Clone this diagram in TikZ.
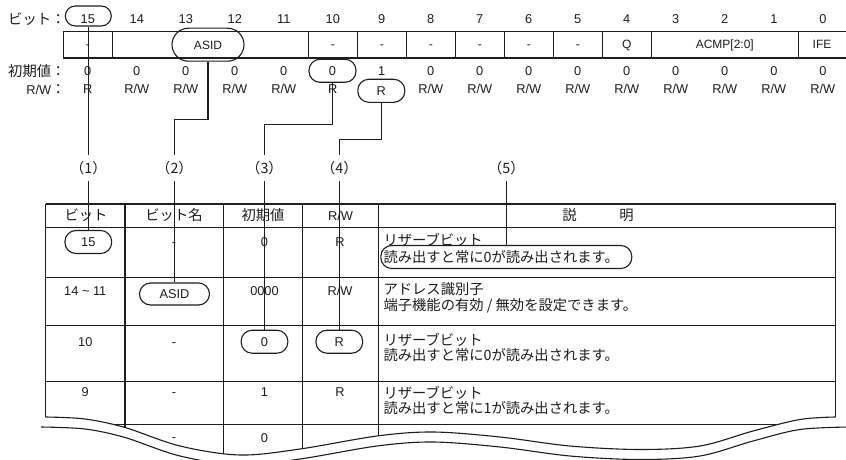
\documentclass[tikz,border=0pt]{standalone}
\usepackage{fontspec}
\setmainfont{Liberation Sans}
\newfontfamily\jpf{Noto Sans CJK JP}
\newcommand\latt{\fontsize{12.8}{15}\selectfont}
\newcommand\regt{\fontsize{12}{14}\selectfont}
\newcommand\jpt{\jpf\fontsize{14.3}{16}\selectfont}
\definecolor{ink}{RGB}{30,30,30}
\begin{document}
\begin{tikzpicture}[x=1pt,y=-1pt, line width=1.1pt, ink,
  lat/.style={font=\latt, inner sep=0pt, text height=9.2pt, text depth=0pt},
  rg/.style={font=\regt, inner sep=0pt, text height=8.6pt, text depth=0pt},
  jp/.style={font=\jpt, inner sep=0pt, text height=10.6pt, text depth=0pt},
  pill/.style={draw=ink, rectangle, rounded corners=11pt, minimum height=23pt, inner sep=0pt},
  lab/.style={jp, minimum height=25pt, minimum width=30pt}]
\fill[white] (0,0) rectangle (846,460);
\useasboundingbox (0,0) rectangle (846,460);

% ---------- register ----------
\node[jp, anchor=east] (lbit) at (66,18.8) {ビット：};
\node[jp, anchor=east] (lini) at (66,71) {初期値：};
\node[anchor=east, inner sep=0pt, text height=10.6pt, text depth=0pt] (lrw) at (66,89.3) {{\latt R/W}{\jpt ：}};

\foreach \i in {0,...,15} \node[lat] (bn\i) at ({87.8+(15-\i)*49},18.8) {\i};
\node[pill, minimum width=46pt, minimum height=20pt, rounded corners=10pt] (o15reg) at (88.3,16) {};

\draw (63.3,31.5) -- (850,31.5);
\draw (63.3,58) -- (850,58);
\foreach \x in {63.3,112.3,308.3,357.3,406.3,455.3,504.3,553.3,602.3,651.3,798.3}
  \draw (\x,31.5) -- (\x,58);

\node[rg] (c15) at (87.8,44.5) {-};
\foreach \i in {5,...,10} \node[rg] (c\i) at ({87.8+(15-\i)*49},44.5) {-};
\node[rg] (c4) at (626.8,44.5) {Q};
\node[rg] (c31) at (724.8,44.5) {ACMP[2:0]};
\node[rg] (c0) at (822,44.5) {IFE};
\node[pill, rg, minimum width=72pt, minimum height=33pt, rounded corners=16.5pt] (asidreg) at (208,44.7) {ASID};

\foreach \i in {0,...,8,11,12,13,14,15} \node[lat] (v\i) at ({87.8+(15-\i)*49},71) {0};
\node[lat] (v9) at (381.8,71) {1};
\node[pill, lat, minimum width=47pt] (v10) at (332.5,70.8) {0};

\foreach \i in {0,...,8,11,12,13,14} \node[lat] (w\i) at ({87.8+(15-\i)*49},89.3) {R/W};
\node[lat] (w15) at (87.8,89.3) {R};
\node[lat] (w10) at (332.8,89.3) {R};
\node[pill, lat, minimum width=47pt] (w9) at (381.3,90.8) {R};

% ---------- labels ----------
\node[lab] (lab1) at (88.3,168) {（1）};
\node[lab] (lab2) at (174.5,168) {（2）};
\node[lab] (lab3) at (264.5,168) {（3）};
\node[lab] (lab4) at (339.3,168) {（4）};
\node[lab] (lab5) at (506.3,168) {（5）};

% ---------- table ----------
\begin{scope}
\clip (-10,-10) -- (-10,417) -- plot[smooth,tension=0.55] coordinates {(45.7,417) (85,419) (125,427.5) (180,446) (240,455) (300,449) (377,436) (433,432) (500,437) (570,446) (640,449.5) (700,446) (753,431) (800,419.5) (835.5,417)} -- (856,417) -- (856,-10) -- cycle;
\foreach \y in {204,227.3,277.3,325.3,381.5,424.5} \draw (45.7,\y) -- (835.5,\y);
\foreach \x in {45.7,125,223.3,302.7,378.3,835.5} \draw (\x,204) -- (\x,470);
\end{scope}
\draw plot[smooth,tension=0.55] coordinates {(45.7,417) (85,419) (125,427.5) (180,446) (240,455) (300,449) (377,436) (433,432) (500,437) (570,446) (640,449.5) (700,446) (753,431) (800,419.5) (835.5,417)};
\draw plot[smooth,tension=0.55] coordinates {(41,427) (85,429) (125,437.5) (180,456) (240,465) (300,459) (377,446) (433,442) (500,447) (570,456) (640,459.5) (700,456) (753,441) (800,429.5) (850,427)};

% header
\node[jp] (h1) at (86,215.5) {ビット};
\node[jp] (h2) at (174,215.5) {ビット名};
\node[jp] (h3) at (263,215.5) {初期値};
\node[lat] (h4) at (340.5,215.5) {R/W};
\node[jp] (h5) at (598,215.5) {説　　　明};

% row 15
\node[pill, lat, minimum width=46.7pt] (o15tab) at (88.3,242) {15};
\node[lat] (r1b) at (174,241.5) {-};
\node[lat] (r1c) at (264.5,241.5) {0};
\node[lat] (r1d) at (340,241.5) {R};
\node[jp, anchor=west] (r1e) at (383,240) {リザーブビット};
\node[pill, minimum width=251pt, minimum height=23pt] (o5) at (506.3,257) {};
\node[jp, anchor=west] (r1f) at (383,257) {読み出すと常に0が読み出されます。};

% row 14~11
\node[lat] (r2a) at (85.3,290.7) {14 {\char`\~} 11};
\node[pill, lat, minimum width=70pt, minimum height=22pt] (asidtab) at (174.5,294) {ASID};
\node[lat] (r2c) at (264.5,290.7) {0000};
\node[lat] (r2d) at (340,290.7) {R/W};
\node[jp, anchor=west] (r2e) at (383,289) {アドレス識別子};
\node[jp, anchor=west] (r2f) at (383,305) {端子機能の有効 / 無効を設定できます。};

% row 10
\node[lat] (r3a) at (85.3,341.7) {10};
\node[lat] (r3b) at (174,341.7) {-};
\node[pill, lat, minimum width=46.7pt] (o0tab) at (264.5,341.7) {0};
\node[pill, lat, minimum width=46.7pt] (oRtab) at (339.3,341.7) {R};
\node[jp, anchor=west] (r3e) at (383,340) {リザーブビット};
\node[jp, anchor=west] (r3f) at (383,355) {読み出すと常に0が読み出されます。};

% row 9
\node[lat] (r4a) at (85.3,392) {9};
\node[lat] (r4b) at (174,392) {-};
\node[lat] (r4c) at (264.5,392) {1};
\node[lat] (r4d) at (340,392) {R};
\node[jp, anchor=west] (r4e) at (383,393) {リザーブビット};
\node[jp, anchor=west] (r4f) at (383,408) {読み出すと常に1が読み出されます。};

% partial row
\node[lat] (r5b) at (174,437) {-};
\node[lat] (r5c) at (264.5,438) {0};

% ---------- connectors ----------
\draw (o15reg.south) -- (lab1.north);
\draw (lab1.south) -- (o15tab.north);
\draw (asidreg.south) -- ++(0,58.1) -| (lab2.north);
\draw (lab2.south) -- (asidtab.north);
\draw (v10.south) -- ++(0,42) -| (lab3.north);
\draw (lab3.south) -- (o0tab.north);
\draw (w9.south) -- ++(0,36.7) -| (lab4.north);
\draw (lab4.south) -- (oRtab.north);
\draw (lab5.south) -- (o5.north);
\end{tikzpicture}
\end{document}
